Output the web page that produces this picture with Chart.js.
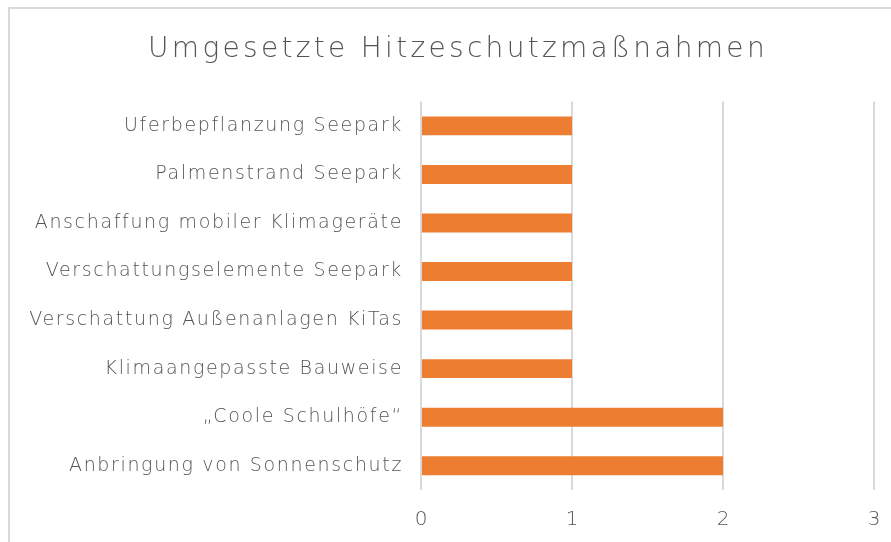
<!DOCTYPE html>
<html>
<head>
<meta charset="utf-8">
<script src="https://cdn.jsdelivr.net/npm/chart.js@4/dist/chart.umd.min.js"></script>
<style>
  html, body { margin: 0; padding: 0; background: #fff; overflow: hidden; width: 891px; height: 542px; }
  #frame { position: absolute; left: 8px; top: 7px; width: 1000px; height: 600px;
           border-left: 2px solid #d9d9d9; border-top: 2px solid #d9d9d9; }
  #wrap { position: absolute; left: 10px; top: 9px; }
</style>
</head>
<body>
<div id="frame"></div>
<div id="wrap"><canvas id="c" width="896" height="533"></canvas></div>
<script>
const chartTitle = 'Umgesetzte Hitzeschutzmaßnahmen';
const categories = [
  'Uferbepflanzung Seepark',
  'Palmenstrand Seepark',
  'Anschaffung mobiler Klimageräte',
  'Verschattungselemente Seepark',
  'Verschattung Außenanlagen KiTas',
  'Klimaangepasste Bauweise',
  '„Coole Schulhöfe“',
  'Anbringung von Sonnenschutz'
];
const values = [1, 1, 1, 1, 1, 1, 2, 2];
const xTicks = [0, 1, 2, 3];

const FONT = "'DejaVu Sans', sans-serif";
const TEXT = '#555555';

function wrapMethod(chart, item, name, spacing) {
  if (!item) return;
  const flag = '_wrapped_' + name;
  if (item[flag]) return;
  const orig = item[name].bind(item);
  item[name] = function (a) {
    const c = chart.ctx;
    const prev = c.letterSpacing;
    c.letterSpacing = spacing;
    orig(a);
    c.letterSpacing = prev;
  };
  item[flag] = true;
}

const spacingPlugin = {
  id: 'spacing',
  afterLayout(chart) {
    const tb = chart.titleBlock;
    if (tb) { tb.left += 16; tb.right += 16; }
  },
  beforeDraw(chart) {
    chart.ctx.letterSpacing = '0px';
    wrapMethod(chart, chart.titleBlock, 'draw', '3.3px');
    wrapMethod(chart, chart.scales.y, 'drawLabels', '1.65px');
    wrapMethod(chart, chart.scales.x, 'drawLabels', '0px');
  }
};

new Chart(document.getElementById('c'), {
  type: 'bar',
  data: {
    labels: categories,
    datasets: [{
      data: values,
      backgroundColor: '#ED7D31',
      borderWidth: 0,
      barPercentage: 0.39,
      categoryPercentage: 1.0
    }]
  },
  plugins: [spacingPlugin],
  options: {
    indexAxis: 'y',
    responsive: false,
    animation: false,
    devicePixelRatio: 1,
    layout: { padding: { left: 0, right: 32, top: 0, bottom: 0 } },
    plugins: {
      legend: { display: false },
      tooltip: { enabled: false },
      title: {
        display: true,
        text: chartTitle,
        color: TEXT,
        font: { family: FONT, size: 28, weight: 300 },
        padding: { top: 24, bottom: 35 }
      }
    },
    scales: {
      x: {
        min: xTicks[0],
        max: xTicks[xTicks.length - 1],
        afterBuildTicks: (s) => { s.ticks = xTicks.map(v => ({ value: v })); },
        afterFit: (s) => { s.height = 52; },
        grid: { color: '#d9d9d9', lineWidth: 2, drawTicks: false },
        border: { display: false },
        ticks: { color: TEXT, font: { family: FONT, size: 20, weight: 300 }, padding: 18 }
      },
      y: {
        afterFit: (s) => { s.width = 411; },
        grid: { display: false, drawTicks: false },
        border: { display: false },
        ticks: { color: TEXT, font: { family: FONT, size: 19, weight: 300 }, padding: 18 }
      }
    }
  }
});
</script>
</body>
</html>
